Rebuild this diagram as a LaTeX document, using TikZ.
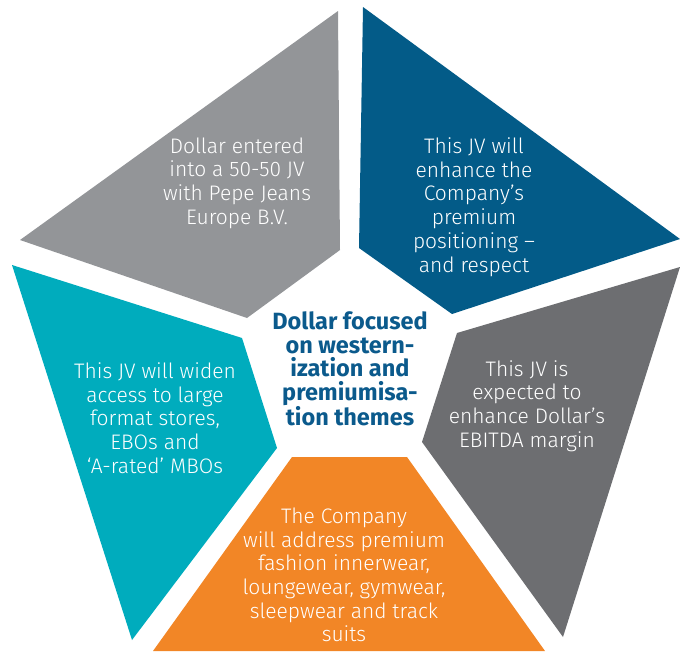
\documentclass[tikz,border=0pt]{standalone}
\usepackage{fontspec}
\setmainfont{Fira Sans Light}
\newfontfamily\boldsf{Fira Sans}
\definecolor{segGray}{HTML}{939598}
\definecolor{segBlue}{HTML}{035B88}
\definecolor{segDark}{HTML}{6D6E71}
\definecolor{segTeal}{HTML}{00ACBD}
\definecolor{segOrange}{HTML}{F28626}
\definecolor{centerBlue}{HTML}{0B5A8C}
\begin{document}
\begin{tikzpicture}[x=1pt,y=-1pt,
  segtext/.style={text=white, align=center, inner sep=0pt,
    font=\fontsize{21}{23.7}\selectfont},
  centertext/.style={text=centerBlue, align=center, inner sep=0pt,
    font=\boldsf\bfseries\fontsize{23.5}{23.7}\selectfont}]
\useasboundingbox (0,0) rectangle (680,651);
% segments
\fill[segGray]   (338,11)  -- (20,240)  -- (247,318) -- (340,250) -- cycle;
\fill[segBlue]   (363,7)   -- (680,239) -- (452,314) -- (359,248) -- cycle;
\fill[segDark]   (457,333) -- (680,267) -- (563,637) -- (422,442) -- cycle;
\fill[segTeal]   (12,265)  -- (242,338) -- (277,448) -- (132,640) -- cycle;
\fill[segOrange] (292,457) -- (407,457) -- (545,651) -- (153,651) -- cycle;
% texts
\node[segtext] (t1) at (237,183) {Dollar entered\\into a 50-50 JV\\with Pepe Jeans\\Europe B.V.};
\node[segtext] (t2) at (474,207) {This JV will\\enhance the\\Company’s\\premium\\positioning –\\and respect};
\node[segtext] (t3) at (527,406) {This JV is\\expected to\\enhance Dollar’s\\EBITDA margin};
\node[segtext] (t4) at (155,418) {This JV will widen\\access to large\\format stores,\\EBOs and\\‘A-rated’ MBOs};
\node[segtext] (t5) at (344,575) {The Company\\will address premium\\fashion innerwear,\\loungewear, gymwear,\\sleepwear and track\\suits};
\node[centertext] (c) at (350,369) {Dollar focused\\on western-\\ization and\\premiumisa-\\tion themes};
\end{tikzpicture}
\end{document}
